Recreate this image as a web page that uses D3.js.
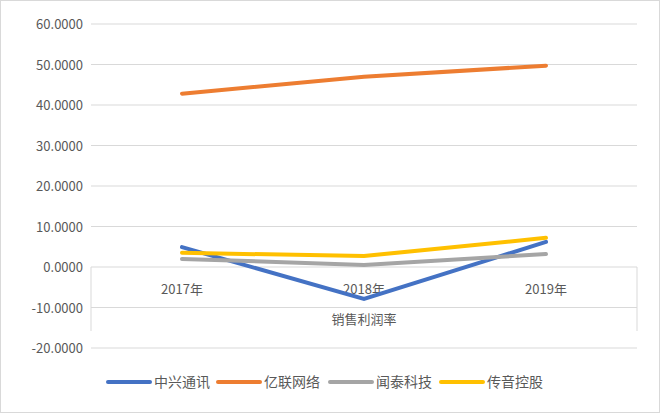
<!DOCTYPE html>
<html><head><meta charset="utf-8">
<script src="https://cdn.jsdelivr.net/npm/d3@7"></script>
<style>body{margin:0;background:#fff}</style></head>
<body><div id="chart"></div>
<script>
var years = ['2017年', '2018年', '2019年'];
var names = ['中兴通讯', '亿联网络', '闻泰科技', '传音控股'];
var colors = ['#4472c4', '#ed7d31', '#a5a5a5', '#ffc000'];
var zte = [4.9, -7.9, 6.2];
var yealink = [42.8, 47.0, 49.7];
var wingtech = [2.0, 0.5, 3.2];
var transsion = [3.5, 2.7, 7.2];
var yTicks = [-20, -10, 0, 10, 20, 30, 40, 50, 60];
var series = [zte, yealink, wingtech, transsion];

var width = 660, height = 413;
var plotLeft = 91, plotRight = 637, plotTop = 24, plotBottom = 348;
var font = "'Noto Sans CJK SC', sans-serif";

var svg = d3.select('#chart').append('svg').attr('width', width).attr('height', height);
svg.append('rect').attr('x', 0.5).attr('y', 0.5).attr('width', width - 1).attr('height', height - 1)
  .attr('fill', '#fff').attr('stroke', '#d9d9d9');

var x = d3.scaleBand().domain(years).range([plotLeft, plotRight]);
var y = d3.scaleLinear().domain([-20, 60]).range([plotBottom, plotTop]);

svg.selectAll('.grid').data(yTicks).enter().append('line')
  .attr('x1', plotLeft).attr('x2', plotRight)
  .attr('y1', d => y(d)).attr('y2', d => y(d))
  .attr('stroke', '#d9d9d9');

svg.selectAll('.ylab').data(yTicks).enter().append('text')
  .attr('x', plotLeft - 8).attr('y', d => y(d) + 5)
  .attr('text-anchor', 'end').attr('font-family', font).attr('font-size', 13).attr('fill', '#595959')
  .text(d => d.toFixed(4));

// category box
[plotLeft, plotRight].forEach(function (px) {
  svg.append('line').attr('x1', px).attr('x2', px).attr('y1', y(0)).attr('y2', 331).attr('stroke', '#d9d9d9');
});
svg.selectAll('.xlab').data(years).enter().append('text')
  .attr('x', d => x(d) + x.bandwidth() / 2).attr('y', 294)
  .attr('text-anchor', 'middle').attr('font-family', font).attr('font-size', 13).attr('fill', '#595959')
  .text(d => d);
svg.append('text').attr('x', (plotLeft + plotRight) / 2).attr('y', 324)
  .attr('text-anchor', 'middle').attr('font-family', font).attr('font-size', 13).attr('fill', '#595959')
  .text('销售利润率');

var line = d3.line().x((d, i) => x(years[i]) + x.bandwidth() / 2).y(d => y(d));
series.forEach(function (s, i) {
  svg.append('path').attr('d', line(s)).attr('fill', 'none')
    .attr('stroke', colors[i]).attr('stroke-width', 4).attr('stroke-linecap', 'round');
});

var lx = [108, 218, 330, 441];
names.forEach(function (n, i) {
  svg.append('line').attr('x1', lx[i]).attr('x2', lx[i] + 42).attr('y1', 382).attr('y2', 382)
    .attr('stroke', colors[i]).attr('stroke-width', 4).attr('stroke-linecap', 'round');
  svg.append('text').attr('x', lx[i] + 46).attr('y', 387)
    .attr('font-family', font).attr('font-size', 14).attr('fill', '#595959').text(n);
});
</script></body></html>
